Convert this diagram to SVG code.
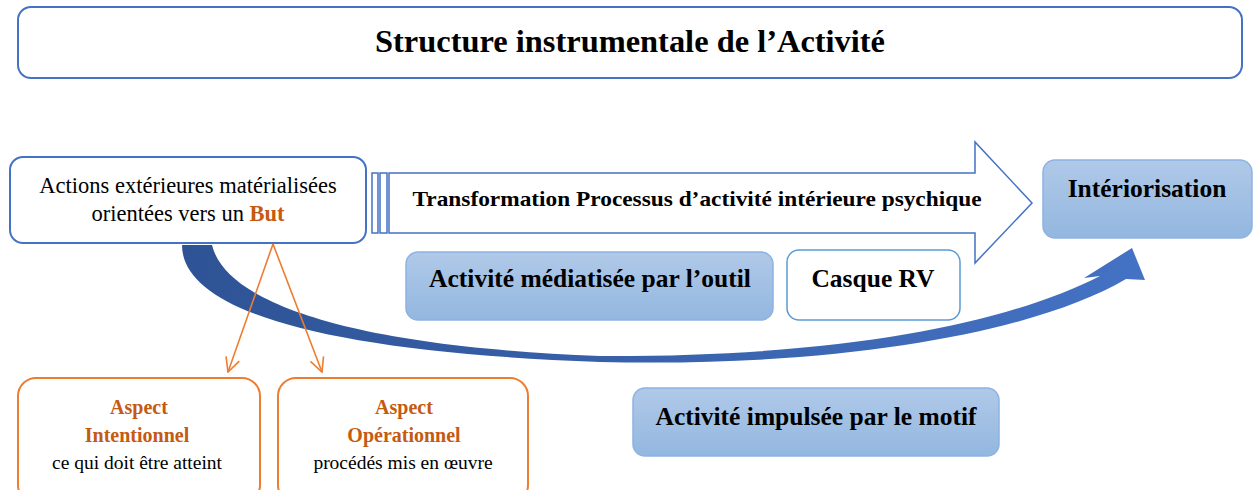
<svg xmlns="http://www.w3.org/2000/svg" width="1255" height="490" viewBox="0 0 1255 490">
<style>
.t{font-family:"Liberation Serif","Times New Roman",serif;text-anchor:middle;fill:#000}
.b{font-weight:bold}
.o{fill:#C55A11;font-weight:bold}
.box{fill:#fff;stroke:#4472C4;stroke-width:2}
.blue{fill:url(#gb);stroke:#8DB3E2;stroke-width:1.5}
.orb{fill:#fff;stroke:#ED7D31;stroke-width:2}
.oline{stroke:#ED7D31;stroke-width:1.6;fill:none;marker-end:url(#ov)}
</style>
<defs>
<linearGradient id="gb" x1="0" y1="0" x2="0" y2="1">
<stop offset="0" stop-color="#B0C9E8"/>
<stop offset="1" stop-color="#93B7E0"/>
</linearGradient>
<linearGradient id="gc" x1="182" y1="0" x2="1145" y2="0" gradientUnits="userSpaceOnUse">
<stop offset="0" stop-color="#2E5395"/>
<stop offset="1" stop-color="#4472C4"/>
</linearGradient>
<marker id="ov" viewBox="0 0 16 16" refX="15" refY="8" markerWidth="16" markerHeight="16" markerUnits="userSpaceOnUse" orient="auto">
<path d="M1,1 L15,8 L1,15" fill="none" stroke="#ED7D31" stroke-width="1.6"/>
</marker>
</defs>

<g id="title">
<rect class="box" x="18" y="7" width="1224" height="71" rx="13"/>
<text class="t b" x="630" y="52" font-size="32" textLength="510" lengthAdjust="spacingAndGlyphs">Structure instrumentale de l’Activité</text>
</g>

<g id="connectors">
<path d="M182,245 C182,310 320,352 600,362 C850,368 1040,330 1126,279 L1145,280 L1132,248 L1084,278 L1100,276 C1010,322 850,357 600,356 C340,346 225,300 212,245 Z" fill="url(#gc)"/>
<line class="oline" x1="273" y1="244" x2="228" y2="372"/>
<line class="oline" x1="273" y1="244" x2="322" y2="372"/>
</g>

<g id="actions">
<rect class="box" x="10" y="157" width="356" height="86" rx="13"/>
<text class="t" x="188" y="193" font-size="22.5">Actions extérieures matérialisées</text>
<text class="t" x="188" y="221" font-size="22.5">orientées vers un <tspan class="o">But</tspan></text>
</g>

<g id="transformation">
<rect x="372" y="173" width="6" height="60" fill="#fff" stroke="#4472C4" stroke-width="1.5"/>
<rect x="380" y="173" width="7" height="60" fill="#fff" stroke="#4472C4" stroke-width="1.5"/>
<path d="M389,173 L975,173 L975,142 L1032,203 L975,263 L975,233 L389,233 Z" fill="#fff" stroke="#4472C4" stroke-width="1.5"/>
<text class="t b" x="697" y="206" font-size="21" textLength="569" lengthAdjust="spacingAndGlyphs">Transformation Processus d’activité intérieure psychique</text>
</g>

<g id="interiorisation">
<rect class="blue" x="1043" y="160" width="209" height="78" rx="12"/>
<text class="t b" x="1147" y="197" font-size="25.5">Intériorisation</text>
</g>

<g id="mediatisee">
<rect class="blue" x="406" y="252" width="367" height="68" rx="12"/>
<text class="t b" x="590" y="287" font-size="25.5">Activité médiatisée par l’outil</text>
</g>

<g id="casque">
<rect x="787" y="250" width="173" height="70" rx="12" fill="#fff" stroke="#5B9BD5" stroke-width="1.5"/>
<text class="t b" x="873" y="287" font-size="25.5">Casque RV</text>
</g>

<g id="impulsee">
<rect class="blue" x="633" y="388" width="366" height="68" rx="12"/>
<text class="t b" x="816" y="425" font-size="25.5">Activité impulsée par le motif</text>
</g>

<g id="intentionnel">
<rect class="orb" x="18" y="378" width="242" height="125" rx="18"/>
<text class="t o" x="139" y="414" font-size="20">Aspect</text>
<text class="t o" x="137" y="442" font-size="20">Intentionnel</text>
<text class="t" x="137" y="469" font-size="19.5">ce qui doit être atteint</text>
</g>

<g id="operationnel">
<rect class="orb" x="278" y="378" width="250" height="125" rx="18"/>
<text class="t o" x="404" y="414" font-size="20">Aspect</text>
<text class="t o" x="404" y="442" font-size="20">Opérationnel</text>
<text class="t" x="403" y="469" font-size="19.5">procédés mis en œuvre</text>
</g>
</svg>
